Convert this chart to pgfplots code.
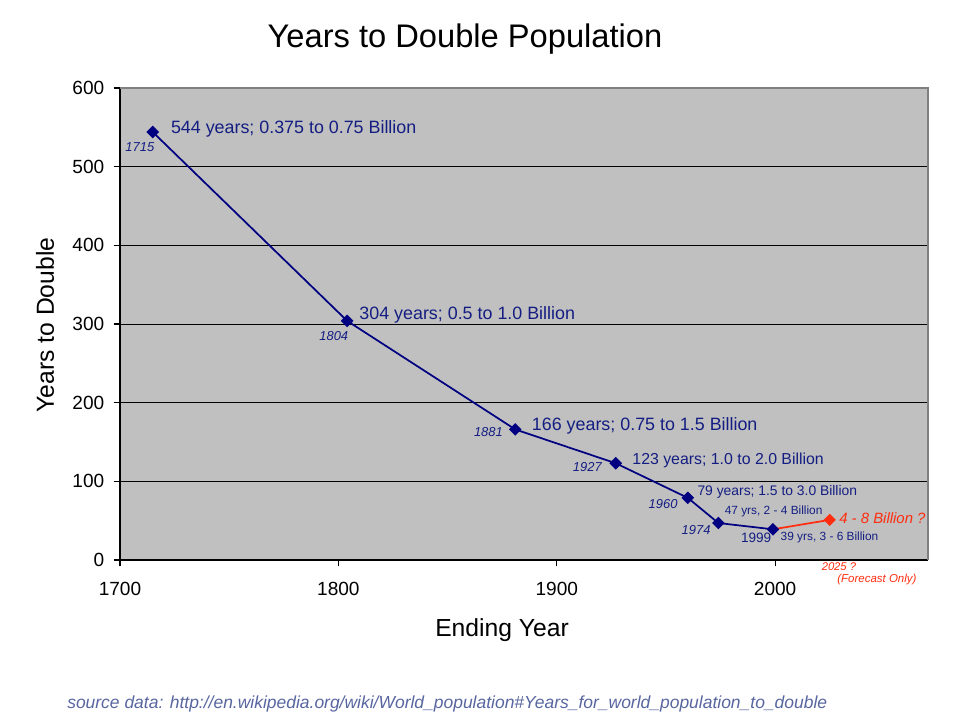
\documentclass[border=0pt]{standalone}
\usepackage{pgfplots}
\pgfplotsset{compat=1.18}
\usepackage{fontspec}
\setmainfont{Liberation Sans}
\definecolor{plotgray}{RGB}{192,192,192}
\definecolor{bordergray}{RGB}{128,128,128}
\definecolor{navy}{RGB}{0,0,128}
\definecolor{lblnavy}{RGB}{20,30,130}
\definecolor{fred}{RGB}{255,45,15}
\definecolor{srcblue}{RGB}{88,102,160}
\newcommand{\fs}[1]{\fontsize{#1}{#1}\selectfont}
\begin{document}
\begin{tikzpicture}
\useasboundingbox (0,0) rectangle (723pt,543.75pt);
\begin{axis}[
  at={(90pt,123.75pt)}, anchor=south west,
  scale only axis, width=606pt, height=354pt,
  xmin=1700, xmax=2070, ymin=0, ymax=600,
  xtick={1700,1800,1900,2000}, ytick={0,100,...,600},
  axis x line*=bottom, axis y line*=left,
  axis line style={black, line width=0.8pt, -},
  tick align=outside, major tick length=4.8pt,
  tick style={black, line width=0.8pt},
  ymajorgrids, grid style={black, line width=0.6pt},
  axis background/.style={fill=plotgray},
  /pgf/number format/1000 sep={},
  /pgf/number format/assume math mode=true,
  ticklabel style={font=\fs{14.3}},
  xticklabel style={yshift=-8.5pt},
  yticklabel style={xshift=-3.5pt},
  clip=false,
]
\draw[bordergray, line width=1.6pt] (rel axis cs:0,1) -- (rel axis cs:1,1) -- (rel axis cs:1,0);
\addplot[fred, line width=1.3pt, mark=none] coordinates {(1999,39) (2025,51)};
\addplot[fred, only marks, mark=square*, mark size=3pt, mark options={rotate=45}] coordinates {(2025,51)};
\addplot[navy, line width=1.3pt, mark=square*, mark size=2.7pt, mark options={rotate=45, fill=navy, solid}]
  coordinates {(1715,544) (1804,304) (1881,166) (1927,123) (1960,79) (1974,47) (1999,39)};
% data labels
\node[anchor=west, text=lblnavy, font=\fs{13.4}] at (axis cs:1721.2,547.5) {544 years; 0.375 to 0.75 Billion};
\node[text=lblnavy, font=\fs{9.7}\itshape] at (axis cs:1709.1,525) {1715};
\node[anchor=west, text=lblnavy, font=\fs{13.4}] at (axis cs:1807.5,311) {304 years; 0.5 to 1.0 Billion};
\node[text=lblnavy, font=\fs{9.7}\itshape] at (axis cs:1797.9,284.7) {1804};
\node[anchor=west, text=lblnavy, font=\fs{13.4}] at (axis cs:1886.5,171) {166 years; 0.75 to 1.5 Billion};
\node[text=lblnavy, font=\fs{9.7}\itshape] at (axis cs:1868.7,162.7) {1881};
\node[anchor=west, text=lblnavy, font=\fs{11.9}] at (axis cs:1932.5,126) {123 years; 1.0 to 2.0 Billion};
\node[text=lblnavy, font=\fs{9.7}\itshape] at (axis cs:1914,118.2) {1927};
\node[anchor=west, text=lblnavy, font=\fs{10.4}] at (axis cs:1962.3,86.7) {79 years; 1.5 to 3.0 Billion};
\node[text=lblnavy, font=\fs{9.7}\itshape] at (axis cs:1948.7,71.2) {1960};
\node[anchor=west, text=lblnavy, font=\fs{8.9}] at (axis cs:1974.8,61.5) {47 yrs, 2 - 4 Billion};
\node[text=lblnavy, font=\fs{9.7}\itshape] at (axis cs:1963.8,38.1) {1974};
\node[text=lblnavy, font=\fs{10.2}] at (axis cs:1991.3,28) {1999};
\node[anchor=west, text=lblnavy, font=\fs{8.9}] at (axis cs:2000.4,28.5) {39 yrs, 3 - 6 Billion};
\node[anchor=west, text=fred, font=\fs{11.2}\itshape] at (axis cs:2027.2,53) {4 - 8 Billion ?};
\node[text=fred, font=\fs{8.4}\itshape] at (axis cs:2029.2,-8.9) {2025 ?};
\node[text=fred, font=\fs{8.6}\itshape] at (axis cs:2046.6,-24.2) {(Forecast Only)};
\end{axis}
\node[font=\fs{24.5}] at (348.75pt,514.5pt) {Years to Double Population};
\node[font=\fs{18.5}] at (376.5pt,71pt) {Ending Year};
\node[font=\fs{18.5}, rotate=90] at (33.75pt,300pt) {Years to Double};
\node[anchor=west, text=srcblue, font=\fs{13.1}\itshape, inner sep=0pt] at (50.25pt,15.75pt) {source data: http://en.wikipedia.org/wiki/World\_population\#Years\_for\_world\_population\_to\_double};
\end{tikzpicture}
\end{document}
